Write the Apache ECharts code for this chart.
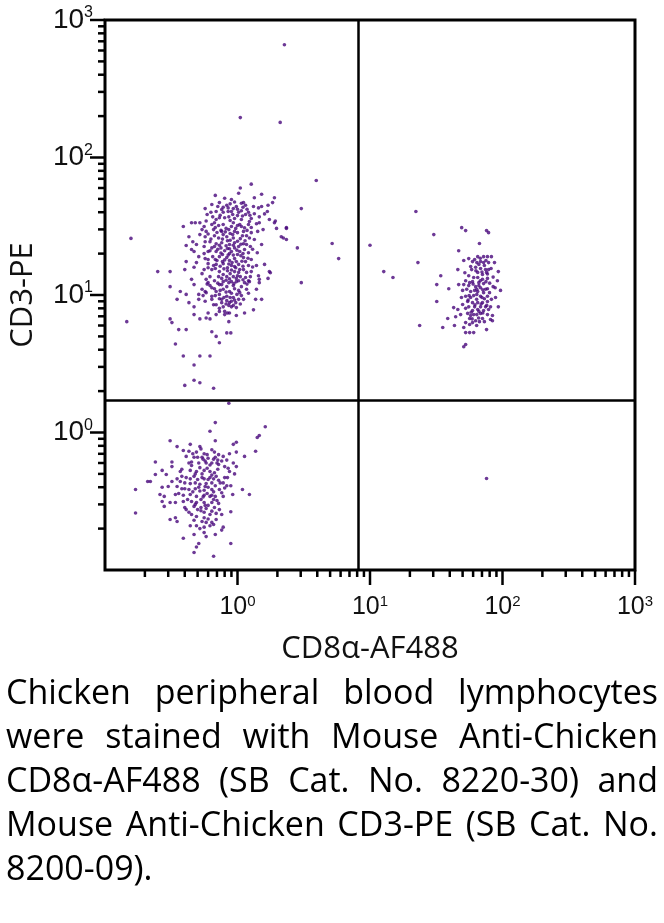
<!DOCTYPE html>
<html>
<head>
<meta charset="utf-8">
<script src="https://cdn.jsdelivr.net/npm/echarts@6/dist/echarts.min.js"></script>
<style>
html,body{margin:0;padding:0;background:#fff;}
#chart{position:absolute;left:0;top:0;width:664px;height:923px;}
#caption{position:absolute;left:6px;top:669px;width:652px;font-family:'Open Sans',sans-serif;font-size:34px;line-height:44px;color:#000;}
#caption div{text-align:justify;text-align-last:justify;white-space:nowrap;}
#caption div.last{text-align-last:left;}
</style>
</head>
<body>
<div id="chart"></div>
<div id="caption">
<div>Chicken peripheral blood lymphocytes</div>
<div>were stained with Mouse Anti-Chicken</div>
<div>CD8α-AF488 (SB Cat. No. 8220-30) and</div>
<div>Mouse Anti-Chicken CD3-PE (SB Cat. No.</div>
<div class="last">8200-09).</div>
</div>
<script>
// ---- axis setup ----
const xAxisTitle = 'CD8α-AF488';
const yAxisTitle = 'CD3-PE';
const axisMin = 0.1;
const axisMax = 1000;
const tickValues = [0.1, 1, 10, 100, 1000];
const tickExponents = ['', '0', '1', '2', '3'];
const majorTicks = [1, 10, 100, 1000];
const minorTicks = [0.2,0.3,0.4,0.5,0.6,0.7,0.8,0.9, 2,3,4,5,6,7,8,9, 20,30,40,50,60,70,80,90, 200,300,400,500,600,700,800,900];

// ---- quadrant gates ----
const cd8Gate = 8.1;
const cd3Gate = 1.72;

// ---- events [CD8α, CD3] ----
const cd3PosCd8Neg = [
[1.27,64],[1.05,60],[1.02,55],[1.52,54],[1.34,51],[0.68,53],[1.9,51],[1.84,47],[1.7,45],[0.73,47],[0.83,45],[0.85,43],[0.98,44],[1.11,47],[1.15,45],[1.32,44],[1.44,43],[1.52,44],[0.57,42.5],[0.63,40],[0.69,40.5],[0.78,40],[0.9,40.5],[1.02,40],[1.21,40],[1.34,39],[1.46,37],[0.65,37],[0.73,36.5],[0.86,37],[0.95,36],[1.07,35.4],[1.27,36],[0.45,33.5],[0.48,33.5],[0.52,33.5],[0.39,31.5],[0.56,31.5],[0.67,33.5],[0.78,32.6],[0.93,33.5],[1.04,32.6],[1.21,32.6],[1.46,33.5],[1.74,35.4],[1.9,33.5],[1.97,30.5],[2.34,30.5],[0.54,29.9],[0.58,29],[0.66,29.9],[0.76,29],[0.86,29.9],[0.95,29],[1.11,29],[1.27,28.4],[1.42,29],[2.14,26.5],[2.34,25.3],[0.43,26.5],[0.57,26.5],[0.62,24.4],[0.72,26],[0.83,26.5],[0.93,26],[1.05,25.7],[1.23,26],[0.46,24.4],[0.57,24.4],[0.41,22.9],[0.49,23.3],[0.56,22.5],[0.76,24],[0.87,23.3],[1.02,22.5],[1.17,23.3],[1.52,23.3],[2.83,22],[0.47,20.7],[0.6,20.7],[0.69,20.7],[0.8,21],[0.9,20.7],[1.04,20.7],[1.21,20.3],[1.41,20.3],[0.51,19],[0.57,18.4],[0.65,19],[0.73,19],[0.83,18.7],[0.95,18.4],[1.11,18.7],[1.27,18.1],[0.49,17.2],[0.6,16.9],[0.69,16.7],[0.78,16.9],[0.9,16.4],[1.02,16.7],[1.21,16.4],[0.25,14.8],[0.31,14.8],[0.4,15.3],[0.47,15.9],[0.56,15.3],[0.64,15.3],[0.73,14.8],[0.84,15],[0.95,14.8],[1.11,15.3],[1.27,14.8],[1.74,14.8],[0.54,14.3],[0.62,13.6],[0.72,13.6],[0.83,13.6],[0.93,13.6],[1.05,13.6],[1.25,13.6],[1.44,13.8],[0.58,13],[0.67,12.7],[0.78,12.5],[0.9,12.5],[1.02,12.7],[1.21,12.7],[1.46,13],[1.7,13.2],
[0.31,11.5],[0.47,11.9],[0.6,12.3],[0.76,11.9],[0.86,12.3],[0.98,12.5],[1.13,12.3],[1.23,12.5],[1.46,12.3],[3.03,12.3],[0.37,10.6],[0.54,11],[0.58,10.4],[0.64,11.3],[0.69,10.6],[0.78,11],[0.87,10.6],[0.95,11.1],[1.04,10.4],[1.17,11],[0.51,10.1],[0.64,9.8],[0.73,10.1],[0.83,9.8],[0.93,9.6],[1.07,9.9],[1.21,10.3],[0.35,9.3],[0.43,8.8],[0.51,9.3],[0.57,9],[0.64,9.3],[0.73,9.4],[0.83,9.1],[0.9,9],[1.02,9.3],[1.11,9.3],[1.37,9.3],[0.47,8.2],[0.69,8.5],[0.78,8.2],[0.86,8.4],[0.9,8.2],[0.98,8.1],[0.6,7.4],[0.73,7.6],[0.8,7.6],[0.87,7.4],[1.13,7.4],[0.47,7.2],[0.69,7.2],[0.8,7.2],[0.31,6.7],[0.32,6.3],[0.52,6.7],[0.62,6.7],[0.86,6.4],[0.146,6.4],[0.36,5.6],[0.41,5.6],[0.64,5.4],[0.83,5.3],[0.89,5.3],[0.69,5],[0.73,4.5],[0.34,4.4],[0.39,3.6],[0.52,3.6],[0.62,3.6],[0.47,3.1],[0.47,2.4],[0.4,2.2],[0.52,2.3],[0.66,2.1],
[2.26,660],[1.05,195],[2.1,180],[3.93,68],[3.03,42.5],[0.157,25.8],[5.18,23.7],[5.8,18.4],[2.34,31],[2.22,26],[1.77,14.5],[1.93,34.5],
[0.76,41.9],[0.85,40.5],[0.93,42.5],[1.07,41],[1.15,38.5],[1.0,37.8],[0.88,34.8],[0.8,36.5],[0.69,35.4],[1.0,32],[1.13,30.8],[0.9,31.5],[0.72,32],[0.64,32.6],[0.78,27.5],[0.88,28],[1.0,28.4],[1.17,27],[0.67,27],[0.84,24.8],[0.95,24],[1.11,23.6],[0.69,23.6],[0.64,22],[0.75,22],[0.84,21.8],[0.95,22],[1.13,21.4],[0.87,20],[1.0,19.7],[0.77,19.7],[0.68,18.1],[0.77,17.5],[0.87,17.8],[0.98,17.5],[1.15,17.5],[0.66,16.4],[0.84,15.8],[0.95,16.1],[1.04,15.3],[1.17,14.6],[0.78,14.1],[0.88,14.3],[1.0,13.8],[1.15,13.4],[0.73,11.9],[0.83,11.5],[0.93,11.7],[1.07,11.5],[0.67,11.1],[1.02,10.8],[0.76,9.3],[0.87,8.8],[0.97,8.8],[0.66,8.5],[0.73,8],[0.84,7.4],[0.98,7.1],[0.58,6.8],[0.57,10.6],[0.6,18.1],[0.56,20],[1.25,22.5],[1.34,25.3],[1.27,31],[1.39,33],[1.56,29.9],[1.6,38.9],[1.68,40.5],[0.9,49.5],[0.8,50.5],[0.64,45.5],[0.59,38.5],[0.52,27.5],[0.45,21.4],[0.41,17.5],[0.45,13],[0.41,10.1],[1.39,11],[1.52,9.3],[1.32,7.8],[1.6,16.7],[1.39,16.4],[0.67,22.5],[0.75,29.5],[1.07,46.5],
[0.71,44],[0.88,46],[1.0,42],[1.18,42],[0.74,38],[0.92,38.5],[1.09,37.5],[1.24,38],[0.68,31],[0.82,30.5],[0.97,30.5],[1.07,31.5],[1.18,29.5],[0.7,28.5],[0.81,28.8],[0.92,27.5],[1.09,27],[0.63,25.5],[0.77,25.5],[0.88,25],[1.0,24.6],[1.14,24.8],[0.73,23],[0.82,22.8],[0.93,23],[1.06,23.4],[0.71,21.5],[0.87,21.7],[0.99,21.2],[1.1,20],[0.75,20.2],[0.85,19.5],[0.93,19.5],[1.06,19.3],[0.7,17.8],[0.8,18],[0.91,17.2],[1.08,17.6],[0.74,16.2],[0.86,16.8],[0.97,15.8],[1.1,16.2],[0.68,15.6],[0.79,15.5],[0.9,15.2],[1.02,14.6],[0.76,13.2],[0.87,13.1],[0.98,13.2],[1.1,12.9],[0.71,12.2],[0.82,12.8],[0.94,12.1],[0.62,11.7],[0.74,10.8],[0.82,10.5],[0.9,10.3],[0.99,10.1],[0.68,9.9],[0.79,9.6],[0.88,9.6],[0.95,9.2],[0.76,8.8],[0.82,8.6],[0.93,8.4],[0.55,9.9],[0.59,12],[0.6,15.8],[0.62,21],[0.6,27.8],[1.2,18.5],[1.3,21.5],[1.3,16],[1.18,12],[1.05,8.6],[0.58,34.5],[1.23,34.2],[1.1,43.5],[0.95,47.5],[0.78,43.5]
];

const cd3NegCd8Neg = [
[0.86,1.63],[0.68,1.18],[0.62,1.02],[1.62,1.1],[1.46,0.95],[1.41,0.92],[0.31,0.87],[0.68,0.87],[0.98,0.85],[0.93,0.82],[0.35,0.79],[0.44,0.82],[0.52,0.79],[0.53,0.76],[0.64,0.75],[0.67,0.72],[0.39,0.74],[0.43,0.73],[0.49,0.72],[0.56,0.7],[0.87,0.7],[0.98,0.72],[1.13,0.67],[1.37,0.73],[0.72,0.69],[0.78,0.67],[0.41,0.67],[0.47,0.66],[0.54,0.66],[0.6,0.65],[0.66,0.64],[0.83,0.63],[0.93,0.6],[0.24,0.61],[0.32,0.61],[0.43,0.6],[0.51,0.6],[0.58,0.6],[0.64,0.6],[0.72,0.585],[0.8,0.565],[0.98,0.565],[0.27,0.53],[0.32,0.565],[0.37,0.52],[0.44,0.53],[0.49,0.52],[0.56,0.53],[0.62,0.52],[0.67,0.51],[0.87,0.52],[0.95,0.5],[0.24,0.495],[0.29,0.495],[0.38,0.48],[0.41,0.47],[0.47,0.48],[0.54,0.47],[0.6,0.455],[0.66,0.46],[0.8,0.47],[0.21,0.44],[0.22,0.44],[0.32,0.44],[0.37,0.44],[0.4,0.43],[0.48,0.43],[0.52,0.42],[0.58,0.425],[0.64,0.43],[0.78,0.43],[0.27,0.4],[0.3,0.405],[0.35,0.405],[0.38,0.39],[0.43,0.385],[0.48,0.39],[0.56,0.38],[0.64,0.385],[0.73,0.385],[0.83,0.41],[0.89,0.41],[1.09,0.385],[0.17,0.385],[0.26,0.354],[0.28,0.343],[0.34,0.354],[0.39,0.35],[0.44,0.354],[0.49,0.343],[0.56,0.35],[0.62,0.343],[0.68,0.343],[0.78,0.343],[0.92,0.354],[1.23,0.354],[0.27,0.315],[0.31,0.31],[0.34,0.31],[0.39,0.315],[0.45,0.315],[0.49,0.31],[0.56,0.31],[0.64,0.31],[0.72,0.305],[0.28,0.29],[0.4,0.285],[0.47,0.29],[0.53,0.285],[0.58,0.28],[0.67,0.285],[0.73,0.275],[0.17,0.26],[0.43,0.263],[0.45,0.253],[0.49,0.245],[0.56,0.263],[0.62,0.253],[0.69,0.258],[0.89,0.265],[0.31,0.233],[0.34,0.24],[0.35,0.225],[0.47,0.23],[0.54,0.225],[0.58,0.222],[0.64,0.222],[0.66,0.214],[0.44,0.21],[0.49,0.21],[0.56,0.205],[0.62,0.21],[0.78,0.205],[0.76,0.195],[0.47,0.181],[0.56,0.187],[0.58,0.175],[0.68,0.181],[0.39,0.17],[0.51,0.156],[0.49,0.147],[0.89,0.156],[0.47,0.134],[0.66,0.126],
[0.5,0.66],[0.57,0.62],[0.68,0.66],[0.76,0.62],[0.52,0.555],[0.59,0.55],[0.71,0.54],[0.45,0.575],[0.54,0.5],[0.64,0.49],[0.72,0.45],[0.5,0.455],[0.44,0.425],[0.57,0.405],[0.68,0.41],[0.52,0.375],[0.59,0.36],[0.42,0.326],[0.66,0.326],[0.53,0.326],[0.57,0.295],[0.5,0.275],[0.64,0.268],[0.76,0.253],[0.84,0.47],[0.76,0.365],[0.38,0.54],[0.36,0.36],[0.41,0.275],[0.69,0.233],
[0.45,0.61],[0.55,0.64],[0.62,0.58],[0.7,0.6],[0.48,0.5],[0.56,0.46],[0.62,0.47],[0.69,0.48],[0.44,0.46],[0.51,0.4],[0.6,0.4],[0.66,0.37],[0.46,0.37],[0.55,0.34],[0.64,0.35],[0.48,0.3],[0.6,0.295],[0.7,0.32],[0.53,0.27],[0.56,0.24],[0.6,0.235],[0.52,0.2],[0.4,0.39],[0.35,0.46],[0.74,0.43],[0.8,0.395],[0.85,0.55],[0.46,0.7],[0.59,0.69],[0.71,0.63]
];

const cd3PosCd8Pos = [
[22.2,40.5],[30.3,27.5],[49.2,30.9],[52.7,29.4],[75.8,29.4],[78.5,28.4],[67,23.7],[46.7,21],[23,17.2],[51,17.8],[55.6,18.4],[59.4,17.5],[65,19],[72,19],[77,19],[82.5,19],[87,17.2],[78.5,17.2],[72,17.2],[64,17.2],[57.5,16.1],[62.7,15.9],[68.3,15.6],[74.5,15.3],[46,15.3],[65,14.6],[70.6,14.1],[93,14.8],[75.8,14.6],[34.2,13.8],[55.6,13.8],[65,13.4],[70.6,13],[77,13.2],[91.5,12.7],[52.7,12.7],[59.4,12.5],[66.3,12.3],[72,12.1],[31.9,11.9],[46.7,11.9],[51,11.9],[55.6,11.7],[62.7,11.5],[68.3,11.3],[77,11.1],[85,11.5],[96.6,10.8],[39.3,11.1],[50,10.8],[57.5,10.6],[65,10.6],[72,10.4],[79.8,10.4],[88.6,9.6],[60.6,9.9],[68.3,9.8],[77,9.8],[52.7,9.8],[31.9,8.96],[54.6,8.96],[59.4,8.8],[65,8.8],[70.6,8.8],[77,8.96],[50,8.53],[55.6,8.2],[61.6,8.2],[68.3,8.2],[74.5,8.2],[81.2,8.2],[93,8.2],[42.8,8.1],[46,7.85],[52.7,8.0],[59.4,7.7],[65,7.85],[72,7.7],[78.5,7.85],[48.3,7.2],[54.6,7.35],[60.6,7.2],[68.3,7.35],[77,7.2],[84,7.1],[38.6,6.75],[44.3,6.95],[56.5,6.75],[62.7,6.5],[70.6,6.75],[81.2,6.63],[52.7,6.3],[59.4,6.3],[67,6.4],[84,6.5],[23.7,6.0],[35.4,5.8],[43.4,6.0],[51,5.8],[56.5,6.1],[75.8,5.6],[52.7,5.33],[56.5,5.33],[60.6,5.33],[51,4.2],[52.7,4.37],
[10,23],[12.7,14.8],[14.9,13.4],
[61.6,18.1],[68.3,17.5],[58.5,15.3],[66.3,16.7],[73,16.4],[60.6,13.4],[56.5,12.3],[61.6,10.8],[74.5,11],[57.5,9.6],[63.8,9.3],[73,9.4],[66.3,7.6],[57.5,7.1],[73,6.4],[63.8,6.0],[53.7,11],[82.5,9.3],[66.3,11.7],[78.5,15.3],
[68,18.5],[75,17.8],[63,15],[70,14.7],[77,14.2],[60,12],[68,12.7],[75,12.5],[64,11],[71,10.9],[56,9.9],[64,10.1],[70,9.6],[62,8.5],[69,8.6],[76,8.4],[58,7.5],[64,7.2],[71,7.4],[59,6.7],[66,6.8],[80,12.2],[82,15.6],[85,13.5],[52,14.5],[55,9.2],[49,9.6],[88,11.3]
];

const cd3NegCd8Pos = [[75.8,0.463]];

// ---- styling ----
const dotColor = '#48077c';
const dotSize = 3.6;
const inkColor = '#000';

function supLabel(value) {
  const i = tickValues.findIndex(t => Math.abs(t - value) / t < 1e-6);
  if (i < 0 || tickExponents[i] === '') return '';
  return '{b|10}{s|' + tickExponents[i] + '}';
}

function tickSeries(values, dim, len) {
  return {
    type: 'custom', silent: true, z: 10, clip: false,
    data: values.map(v => dim === 'x' ? [v, axisMin] : [axisMin, v]),
    renderItem: function (params, api) {
      const p = api.coord([api.value(0), api.value(1)]);
      const shape = dim === 'x'
        ? { x1: p[0], y1: p[1], x2: p[0], y2: p[1] + len }
        : { x1: p[0] - len, y1: p[1], x2: p[0], y2: p[1] };
      return { type: 'line', shape: shape, style: { stroke: inkColor, lineWidth: 2.5 } };
    }
  };
}

function scatter(data) {
  return {
    type: 'scatter', data: data, symbol: 'circle', symbolSize: dotSize,
    itemStyle: { color: dotColor }, silent: true, z: 3
  };
}

const chart = echarts.init(document.getElementById('chart'), null, { renderer: 'canvas' });
const gateSeries = scatter(cd3PosCd8Neg);
gateSeries.markLine = {
  silent: true, symbol: 'none', animation: false,
  label: { show: false },
  lineStyle: { color: inkColor, width: 2.5, type: 'solid' },
  data: [{ xAxis: cd8Gate }, { yAxis: cd3Gate }]
};

chart.setOption({
  animation: false,
  backgroundColor: '#fff',
  grid: { left: 104, top: 20, width: 531, height: 550, show: true, borderColor: inkColor, borderWidth: 3, backgroundColor: 'transparent' },
  xAxis: {
    type: 'log', logBase: 10, min: axisMin, max: axisMax,
    name: xAxisTitle, nameLocation: 'middle', nameGap: 64,
    nameTextStyle: { fontFamily: 'Open Sans', fontSize: 31, color: '#111' },
    axisLine: { show: false }, axisTick: { show: false }, splitLine: { show: false },
    axisLabel: {
      margin: 24, formatter: supLabel, showMinLabel: true, showMaxLabel: true,
      rich: {
        b: { fontFamily: 'Liberation Sans', fontSize: 25, color: '#111', lineHeight: 27 },
        s: { fontFamily: 'Liberation Sans', fontSize: 15, color: '#111', verticalAlign: 'top', lineHeight: 27, padding: [0, 0, 9, 0] }
      }
    }
  },
  yAxis: {
    type: 'log', logBase: 10, min: axisMin, max: axisMax,
    name: yAxisTitle, nameLocation: 'middle', nameGap: 66, nameRotate: 90,
    nameTextStyle: { fontFamily: 'Open Sans', fontSize: 31, color: '#111' },
    axisLine: { show: false }, axisTick: { show: false }, splitLine: { show: false },
    axisLabel: {
      margin: 12, formatter: supLabel, showMinLabel: true, showMaxLabel: true,
      rich: {
        b: { fontFamily: 'Liberation Sans', fontSize: 28, color: '#111', lineHeight: 30 },
        s: { fontFamily: 'Liberation Sans', fontSize: 16, color: '#111', verticalAlign: 'top', lineHeight: 30, padding: [0, 0, 10, 0] }
      }
    }
  },
  series: [
    gateSeries,
    scatter(cd3NegCd8Neg),
    scatter(cd3PosCd8Pos),
    scatter(cd3NegCd8Pos),
    tickSeries(majorTicks, 'x', 15),
    tickSeries(minorTicks, 'x', 7),
    tickSeries(majorTicks, 'y', 15),
    tickSeries(minorTicks, 'y', 7)
  ]
});
</script>
</body>
</html>
